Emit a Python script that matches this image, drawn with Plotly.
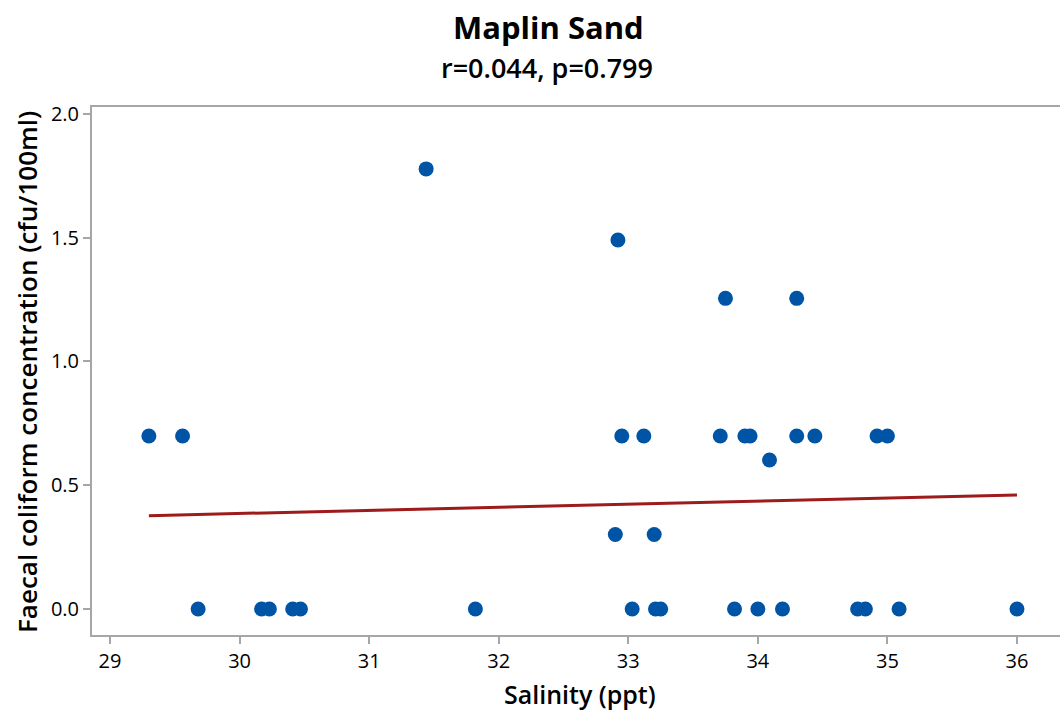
import plotly.graph_objects as go

# Salinity (ppt) and log10 faecal coliform concentration
salinity = [29.30, 29.56, 32.95, 33.12, 33.71, 33.90, 33.94, 34.30, 34.44, 34.92, 35.00,
            34.09,
            32.90, 33.20,
            33.75, 34.30,
            32.92,
            31.44,
            29.68, 30.17, 30.23, 30.41, 30.47, 31.82, 33.03, 33.21, 33.25, 33.82, 34.00,
            34.19, 34.77, 34.83, 35.09, 36.00]
coliform = [0.699] * 11 + [0.602] + [0.301] * 2 + [1.255] * 2 + [1.491] + [1.778] + [0.0] * 16

fit_x = [29.30, 36.00]
fit_y = [0.377, 0.461]

x_ticks = [29, 30, 31, 32, 33, 34, 35, 36]
y_ticks = [0.0, 0.5, 1.0, 1.5, 2.0]
y_tick_labels = ["0.0", "0.5", "1.0", "1.5", "2.0"]

FONT = "Open Sans"
AX = "#a6a6a6"

fig = go.Figure()
fig.add_trace(go.Scatter(x=fit_x, y=fit_y, mode="lines",
                         line=dict(color="#9e1b1b", width=3), showlegend=False))
fig.add_trace(go.Scatter(x=salinity, y=coliform, mode="markers",
                         marker=dict(color="#0054a6", size=15), showlegend=False))

fig.update_layout(
    width=1060, height=711,
    margin=dict(l=92, r=0, t=107, b=76),
    paper_bgcolor="white", plot_bgcolor="white",
    font=dict(family=FONT, color="#000000"),
    xaxis=dict(range=[28.861, 36.332], tickvals=x_ticks, showgrid=False, zeroline=False,
               showline=True, linecolor=AX, linewidth=2, mirror=True,
               ticks="outside", ticklen=7, tickwidth=2, tickcolor=AX,
               tickfont=dict(size=20, family=FONT, color="#000000")),
    yaxis=dict(range=[-0.105, 2.028], tickvals=y_ticks, ticktext=y_tick_labels,
               showgrid=False, zeroline=False,
               showline=True, linecolor=AX, linewidth=2,
               ticks="outside", ticklen=7, tickwidth=2, tickcolor=AX,
               tickfont=dict(size=20, family=FONT, color="#000000")),
    annotations=[
        dict(text="Maplin Sand", x=548, y=27, showarrow=False,
             font=dict(size=31, family=FONT, weight=700, color="#000000")),
        dict(text="r=0.044, p=0.799", x=547, y=68, showarrow=False,
             font=dict(size=27, family=FONT, weight=600, color="#000000")),
        dict(text="Salinity (ppt)", x=580, y=694, showarrow=False,
             font=dict(size=25, family=FONT, weight=600, color="#000000")),
        dict(text="Faecal coliform concentration (cfu/100ml)", x=27, y=372,
             textangle=-90, showarrow=False,
             font=dict(size=26, family=FONT, weight=600, color="#000000")),
    ],
)

# place annotations in pixel coordinates via paper fractions
pw, ph = 1060 - 92 - 0, 711 - 107 - 76
for a in fig.layout.annotations:
    px, py = a.x, a.y
    a.xref = "paper"; a.yref = "paper"
    a.x = (px - 92) / pw
    a.y = (711 - 76 - py) / ph
    a.xanchor = "center"; a.yanchor = "middle"

fig.write_html("out.html")
